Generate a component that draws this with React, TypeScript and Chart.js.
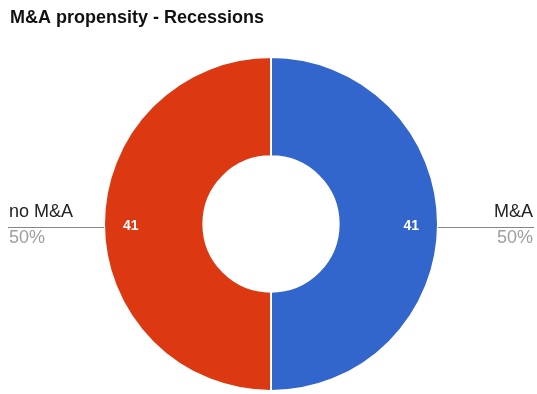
import React, { useEffect, useRef } from "react";
import { Chart, registerables } from "chart.js";

Chart.register(...registerables);

const title = "M&A propensity - Recessions";
const categories = ["M&A", "no M&A"];
const values = [41, 41];
const sliceColors = ["#3366CC", "#DC3912"];

const FONT = "Arial, 'Liberation Sans', sans-serif";

const labelPlugin = {
  id: "gLabels",
  afterDraw(chart: any) {
    const ctx = chart.ctx;
    const meta = chart.getDatasetMeta(0);
    const data = chart.data.datasets[0].data as number[];
    const total = data.reduce((a, b) => a + b, 0);
    ctx.save();
    // title
    ctx.font = `bold 18px ${FONT}`;
    ctx.fillStyle = "#111";
    ctx.textAlign = "left";
    ctx.textBaseline = "alphabetic";
    ctx.fillText(title, 10, 23);

    meta.data.forEach((arc: any, i: number) => {
      const mid = (arc.startAngle + arc.endAngle) / 2;
      const cx = arc.x;
      const cy = arc.y;
      // value inside slice
      const rv = arc.outerRadius * 0.84;
      ctx.font = `bold 14px ${FONT}`;
      ctx.fillStyle = "#fff";
      ctx.textAlign = "center";
      ctx.textBaseline = "middle";
      ctx.fillText(String(data[i]), cx + Math.cos(mid) * rv, cy + Math.sin(mid) * rv + 2.5);
      // leader
      const ex = cx + Math.cos(mid) * arc.outerRadius;
      const ey = cy + Math.sin(mid) * arc.outerRadius + 3;
      const right = Math.cos(mid) >= 0;
      const endX = right ? 534 : 8;
      ctx.strokeStyle = "#888";
      ctx.lineWidth = 1;
      ctx.beginPath();
      ctx.moveTo(ex, ey + 0.5);
      ctx.lineTo(endX, ey + 0.5);
      ctx.stroke();
      ctx.textAlign = right ? "right" : "left";
      const tx = right ? 533 : 9;
      ctx.textBaseline = "alphabetic";
      ctx.font = `18px ${FONT}`;
      ctx.fillStyle = "#222";
      ctx.fillText(String(chart.data.labels[i]), tx, ey - 10);
      ctx.fillStyle = "#9e9e9e";
      const pct = Math.round((data[i] / total) * 100) + "%";
      ctx.fillText(pct, tx, ey + 16);
    });
    ctx.restore();
  },
};

export default function App() {
  const ref = useRef<HTMLCanvasElement>(null);
  useEffect(() => {
    if (!ref.current) return;
    const chart = new Chart(ref.current, {
      type: "doughnut",
      data: {
        labels: categories,
        datasets: [
          {
            data: values,
            backgroundColor: sliceColors,
            borderColor: "#ffffff",
            borderWidth: 2,
          },
        ],
      },
      options: {
        responsive: false,
        animation: false,
        devicePixelRatio: 1,
        cutout: "40.5%",
        layout: { padding: { left: 103, right: 98, top: 56, bottom: 2 } },
        plugins: {
          legend: { display: false },
          tooltip: { enabled: false },
          title: { display: false },
        },
      },
      plugins: [labelPlugin],
    });
    return () => chart.destroy();
  }, []);
  return (
    <div style={{ position: "absolute", left: 0, top: 0, width: 537, height: 394, background: "#fff" }}>
      <canvas ref={ref} width={537} height={394} />
    </div>
  );
}
